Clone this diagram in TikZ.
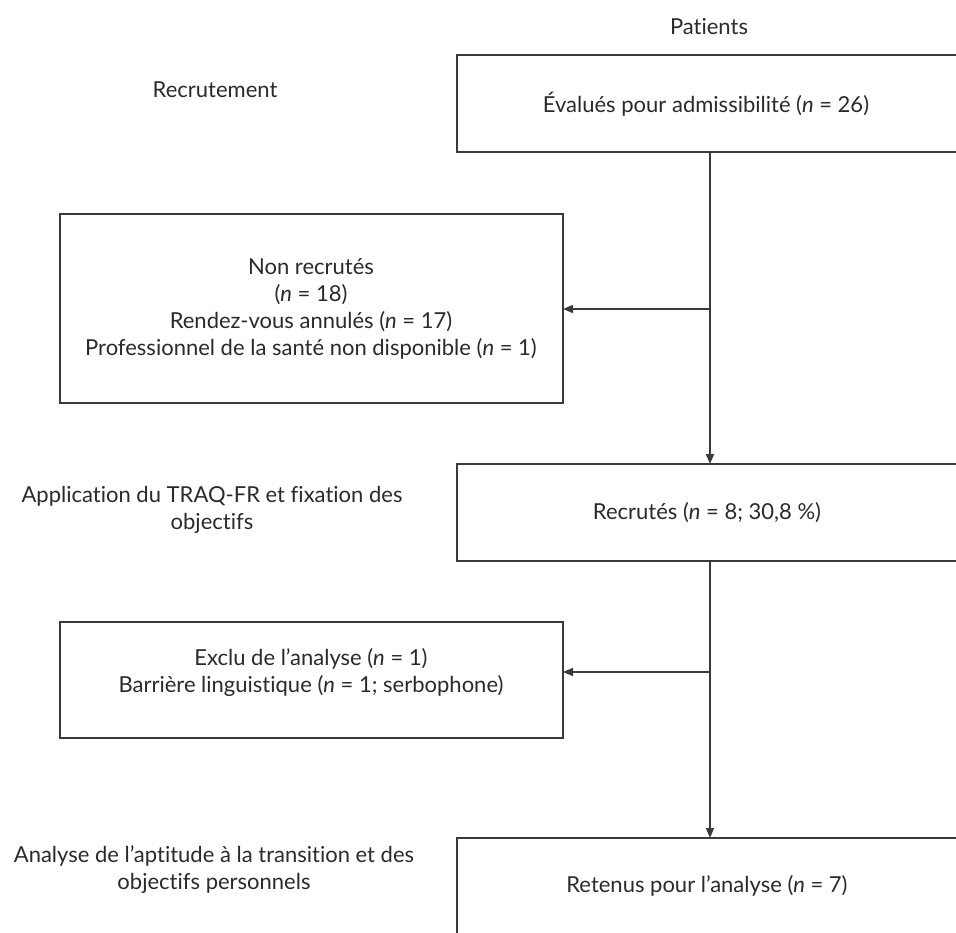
\documentclass[tikz,border=0pt]{standalone}
\usepackage{fontspec}
\setmainfont{Lato}[Ligatures=NoCommon]
\usetikzlibrary{arrows.meta}
\definecolor{ink}{HTML}{2A2A2A}
\definecolor{rule}{HTML}{3A3A3A}
\tikzset{
  lbl/.style={text=ink, font=\fontsize{22}{27}\selectfont, align=center, inner sep=0pt},
  frame/.style={draw=rule, line width=1.5pt},
  flow/.style={draw=rule, line width=1.5pt, -{Triangle[length=10pt,width=8pt]}}
}
\begin{document}
\begin{tikzpicture}[x=1pt,y=-1pt]
\useasboundingbox (0,0) rectangle (956,932);
\clip (0,0) rectangle (956,932);

% stage headings
\node[lbl] (hpat) at (709,27) {Patients};
\node[lbl] (hrec) at (215,90) {Recrutement};
\node[lbl] (happ) at (212,510) {Application du TRAQ-FR et fixation des\\objectifs};
\node[lbl] (hana) at (214,870) {Analyse de l’aptitude à la transition et des\\objectifs personnels};

% main column boxes (open on the right edge)
\draw[frame] (457,55) rectangle (970,152);
\node[lbl] (eval) at (706,104) {Évalués pour admissibilité (\textit{n} = 26)};
\draw[frame] (457,464) rectangle (970,561);
\node[lbl] (recr) at (707,513) {Recrutés (\textit{n} = 8; 30,8 \%)};
\draw[frame] (457,838) rectangle (970,960);
\node[lbl] (ret) at (707,886) {Retenus pour l’analyse (\textit{n} = 7)};

% side boxes
\draw[frame] (60,214) rectangle (563,403);
\node[lbl] (nonrec) at (311,309) {Non recrutés\\(\textit{n} = 18)\\Rendez-vous annulés (\textit{n} = 17)\\Professionnel de la santé non disponible (\textit{n} = 1)};
\draw[frame] (60,622) rectangle (563,738);
\node[lbl] (excl) at (311,672) {Exclu de l’analyse (\textit{n} = 1)\\Barrière linguistique (\textit{n} = 1; serbophone)};

% trunk and branches
\coordinate (t1) at (710,152);
\coordinate (t1in) at (710,464);
\coordinate (b1) at (710,309);
\coordinate (b1end) at (563,309);
\coordinate (t2) at (710,561);
\coordinate (t2in) at (710,838);
\coordinate (b2) at (710,672);
\coordinate (b2end) at (563,672);

\draw[flow] (t1) -- (t1in);
\draw[flow] (b1) -- (b1end);
\draw[flow] (t2) -- (t2in);
\draw[flow] (b2) -- (b2end);
\end{tikzpicture}
\end{document}
